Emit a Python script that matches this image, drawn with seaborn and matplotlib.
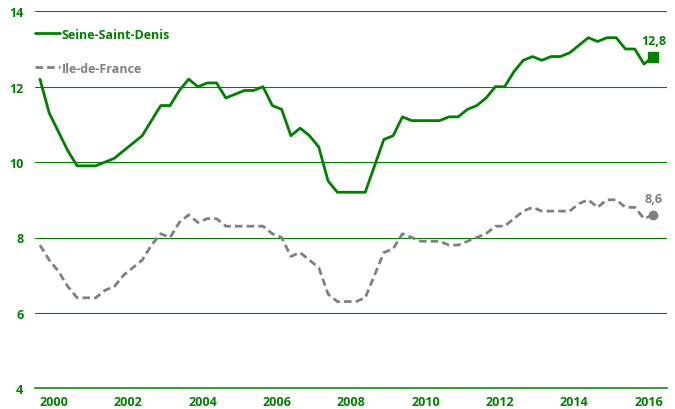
import numpy as np
import pandas as pd
import matplotlib.pyplot as plt
import seaborn as sns

# Quarterly unemployment rate (%), 2000 Q1 -> 2016 Q3
seine_saint_denis = [
    12.2, 11.3, 10.8, 10.3, 9.9, 9.9, 9.9, 10.0, 10.1, 10.3, 10.5, 10.7,
    11.1, 11.5, 11.5, 11.9, 12.2, 12.0, 12.1, 12.1, 11.7, 11.8, 11.9, 11.9,
    12.0, 11.5, 11.4, 10.7, 10.9, 10.7, 10.4, 9.5, 9.2, 9.2, 9.2, 9.2,
    9.9, 10.6, 10.7, 11.2, 11.1, 11.1, 11.1, 11.1, 11.2, 11.2, 11.4, 11.5,
    11.7, 12.0, 12.0, 12.4, 12.7, 12.8, 12.7, 12.8, 12.8, 12.9, 13.1, 13.3,
    13.2, 13.3, 13.3, 13.0, 13.0, 12.6, 12.8,
]
ile_de_france = [
    7.8, 7.4, 7.1, 6.7, 6.4, 6.4, 6.4, 6.6, 6.7, 7.0, 7.2, 7.4,
    7.8, 8.1, 8.0, 8.4, 8.6, 8.4, 8.5, 8.5, 8.3, 8.3, 8.3, 8.3,
    8.3, 8.1, 8.0, 7.5, 7.6, 7.4, 7.2, 6.5, 6.3, 6.3, 6.3, 6.4,
    7.0, 7.6, 7.7, 8.1, 8.0, 7.9, 7.9, 7.9, 7.8, 7.8, 7.9, 8.0,
    8.1, 8.3, 8.3, 8.5, 8.7, 8.8, 8.7, 8.7, 8.7, 8.7, 8.9, 9.0,
    8.8, 9.0, 9.0, 8.8, 8.8, 8.5, 8.6,
]
years = list(range(2000, 2017))
year_labels = [str(y) for y in years[::2]]
y_ticks = [4, 6, 8, 10, 12, 14]

GREEN = '#008000'
GREY = '#808080'

df = pd.DataFrame({
    'trimestre': np.arange(len(seine_saint_denis)),
    'Seine-Saint-Denis': seine_saint_denis,
    'Ile-de-France': ile_de_france,
})

sns.set_style('white')
plt.rcParams['font.family'] = ['Open Sans', 'DejaVu Sans']

fig = plt.figure(figsize=(6.75, 4.10), dpi=100)
ax = fig.add_axes([35.3 / 675, 20.7 / 410, 632 / 675, 377 / 410])

sns.lineplot(data=df, x='trimestre', y='Seine-Saint-Denis', ax=ax, color=GREEN,
             linewidth=2.0, label='Seine-Saint-Denis', solid_joinstyle='round')
sns.lineplot(data=df, x='trimestre', y='Ile-de-France', ax=ax, color=GREY,
             linewidth=2.0, linestyle=(0, (2.7, 1.5)), label='Ile-de-France')

# last values
last = df.iloc[-1]
ax.plot(last['trimestre'], last['Seine-Saint-Denis'], marker='s', ms=7.2,
        color=GREEN, zorder=5)
ax.plot(last['trimestre'], last['Ile-de-France'], marker='o', ms=6,
        color=GREY, zorder=5)
ax.annotate(f"{last['Seine-Saint-Denis']:.1f}".replace('.', ','),
            (last['trimestre'], last['Seine-Saint-Denis']),
            xytext=(0, 11.5), textcoords='offset points', ha='center',
            va='center', color=GREEN, fontsize=9, fontweight='bold')
ax.annotate(f"{last['Ile-de-France']:.1f}".replace('.', ','),
            (last['trimestre'], last['Ile-de-France']),
            xytext=(0, 11.5), textcoords='offset points', ha='center',
            va='center', color=GREY, fontsize=9, fontweight='bold')

ax.set_xlim(-0.5, 67.5)
ax.set_ylim(4, 14)
ax.set_yticks(y_ticks)
ax.set_yticklabels([str(v) for v in y_ticks])
ax.set_xticks(np.arange(len(year_labels)) * 8 + 1.5)
ax.set_xticklabels(year_labels)
ax.set_xticks(np.arange(len(years) + 1) * 4 - 0.5, minor=True)
ax.tick_params(axis='x', which='major', length=0, pad=5, labelcolor=GREEN,
               labelsize=9)
ax.tick_params(axis='x', which='minor', length=4, width=1, color=GREEN,
               direction='out')
ax.tick_params(axis='y', length=0, pad=8.6, labelcolor=GREEN, labelsize=9)
for lab in ax.get_xticklabels() + ax.get_yticklabels():
    lab.set_fontweight('bold')

ax.grid(axis='y', color=GREEN, linewidth=0.8)
ax.grid(axis='x', visible=False)
for side in ['top', 'right', 'left']:
    ax.spines[side].set_visible(False)
ax.spines['bottom'].set_color(GREEN)
ax.spines['bottom'].set_linewidth(1.1)
ax.set_xlabel('')
ax.set_ylabel('')

leg = ax.legend(loc='upper left', bbox_to_anchor=(0, 0.957), frameon=False,
                borderpad=0, borderaxespad=0, handlelength=2.0,
                handletextpad=0.1, labelspacing=1.68,
                prop={'size': 9, 'weight': 'bold'})
leg.get_texts()[0].set_color(GREEN)
leg.get_texts()[1].set_color(GREY)

fig.savefig('out.png', dpi=100)
